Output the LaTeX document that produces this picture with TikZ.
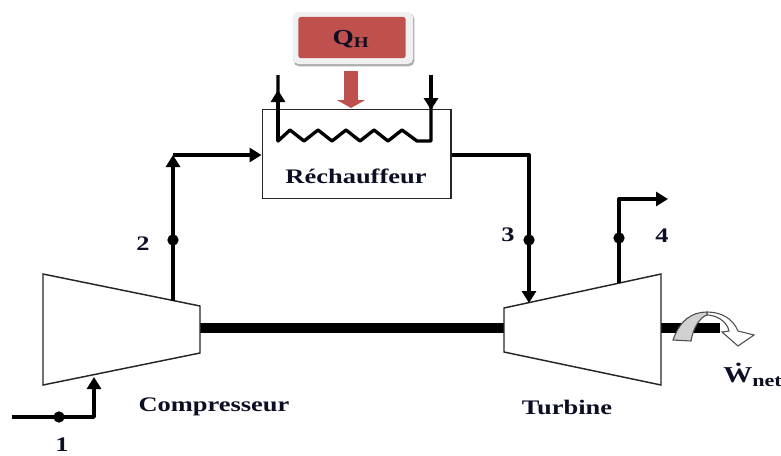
\documentclass[tikz,border=0pt]{standalone}
\usepackage{fontspec}
\setmainfont{Liberation Serif}
\newfontfamily\labfont[FakeStretch=1.28]{Liberation Serif}
\usetikzlibrary{arrows.meta}
\definecolor{heatred}{RGB}{192,80,77}
\definecolor{labink}{RGB}{12,14,36}
\tikzset{
  x=0.75pt,y=-0.75pt,
  pipe/.style={line width=2.5pt,line join=round,black},
  flow/.style={pipe,-{Triangle[length=9pt,width=10.5pt]}},
  outline/.style={draw=black!85,line width=1.1pt,fill=white,line join=miter},
  shaft/.style={line width=7.6pt,black},
  junction/.style={circle,fill=black,inner sep=0pt,minimum size=8.5pt},
  lab/.style={font=\labfont\bfseries\fontsize{15.5}{17}\selectfont,text=labink,inner sep=0pt}
}
\begin{document}
\begin{tikzpicture}
\useasboundingbox (0,0) rectangle (781,455);
% named anchor points
\coordinate (c1) at (43,274); \coordinate (c2) at (200,306);
\coordinate (c3) at (200,353); \coordinate (c4) at (43,385);
\coordinate (t1) at (504,308); \coordinate (t2) at (661,274);
\coordinate (t3) at (661,385); \coordinate (t4) at (504,352);
\coordinate (cshaft) at (200,328); \coordinate (tshaft) at (504,328);
\coordinate (rshaftA) at (661,328); \coordinate (rshaftB) at (720,328);
\coordinate (in1) at (12,417); \coordinate (bend1) at (94,417); \coordinate (cin) at (94,377);
\coordinate (cout) at (173,301); \coordinate (bend2) at (173,155);
\coordinate (tin) at (529,303); \coordinate (bend3) at (529,155);
\coordinate (tout) at (619,283); \coordinate (bend4) at (619,199); \coordinate (out4) at (668,199);
\coordinate (zl) at (278,141); \coordinate (zr) at (431,141);
\coordinate (ltop) at (278,75); \coordinate (rtop) at (431,75);
\coordinate (ltip) at (278,90); \coordinate (rtip) at (431,110);
% shafts
\draw[shaft] (cshaft) -- (tshaft);
\draw[shaft] (rshaftA) -- (rshaftB);
% machines
\draw[outline] (c1) -- (c2) -- (c3) -- (c4) -- cycle;
\draw[outline] (t1) -- (t2) -- (t3) -- (t4) -- cycle;
% heater
\node[draw=black!85,line width=1.1pt,fill=white,minimum width=141.5pt,minimum height=66.5pt,inner sep=0pt,anchor=north west] (heater) at (261.5,109) {};
\node[lab] (heatlab) at (356,176) {Réchauffeur};
% heat source
\node[rounded corners=4pt,fill=black!32,minimum width=90.5pt,minimum height=39.5pt,inner sep=0pt] (qshadow) at (354,40) {};
\node[rounded corners=4pt,fill=black!6,minimum width=90pt,minimum height=39pt,inner sep=0pt] (qframe) at (353,38) {};
\node[rounded corners=2pt,fill=heatred,minimum width=80.5pt,minimum height=31pt,inner sep=0pt] (qbox) at (352,37.5) {};
\node[font=\labfont\bfseries\fontsize{16}{18}\selectfont,text=labink,inner sep=0pt] (qlab) at (351,39) {Q\textsubscript{H}};
% heat arrow
\coordinate (qa) at (351,71); \coordinate (qb) at (351,108);
\draw[-{Triangle[length=6pt,width=21pt]},line width=10.5pt,heatred] (qa) -- (qb);
% heating coil
\draw[pipe] (ltop) -- (zl) -- ++(12,-11) -- ++(14,11) -- ++(14,-11) -- ++(14,11) -- ++(14,-11) -- ++(14,11) -- ++(14,-11) -- ++(14,11) -- ++(14,-11) -- ++(15,11) -- (zr) -- (rtop);
\draw[flow] (zl) -- (ltip);
\draw[flow] (rtop) -- (rtip);
% flow lines
\draw[flow] (in1) -- (bend1) -- (cin);
\draw[flow] (cout) -- (bend2);
\draw[flow] (bend2) -- (heater.west |- bend2);
\draw[flow] (heater.east |- bend3) -- (bend3) -- (tin);
\draw[flow] (tout) -- (bend4) -- (out4);
% junction points
\node[junction] (p1) at (59,417) {};
\node[junction] (p2) at (173,240) {};
\node[junction] (p3) at (529,240) {};
\node[junction] (p4) at (619,238) {};
% labels
\node[lab] (l1) at (62,445) {1};
\node[lab] (l2) at (143,244) {2};
\node[lab] (l3) at (508,235) {3};
\node[lab] (l4) at (662,236) {4};
\node[lab] (compl) at (214,407) {Compresseur};
\node[lab] (turbl) at (567,407) {Turbine};
\node[anchor=west,inner sep=0pt,text=labink] (wl) at (723,375) {\labfont\bfseries\fontsize{17}{19}\selectfont\.{W}\fontsize{13}{15}\selectfont\raisebox{-2.5pt}{net}};
% work arrow
\draw[draw=black!70,line width=0.8pt,fill=white,line join=miter]
  (707,312) .. controls (722,312) and (733,319) .. (738,331)
  -- (754,335) -- (738,346) -- (722,332)
  -- (729,331) .. controls (727,321) and (716,315) .. (707,315) -- cycle;
\draw[draw=black!70,line width=0.8pt,fill=black!18,line join=miter]
  (673,340) .. controls (680,320) and (692,312) .. (707,312)
  -- (707,315) .. controls (700,317) and (693,328) .. (691,341) -- cycle;
\end{tikzpicture}
\end{document}
